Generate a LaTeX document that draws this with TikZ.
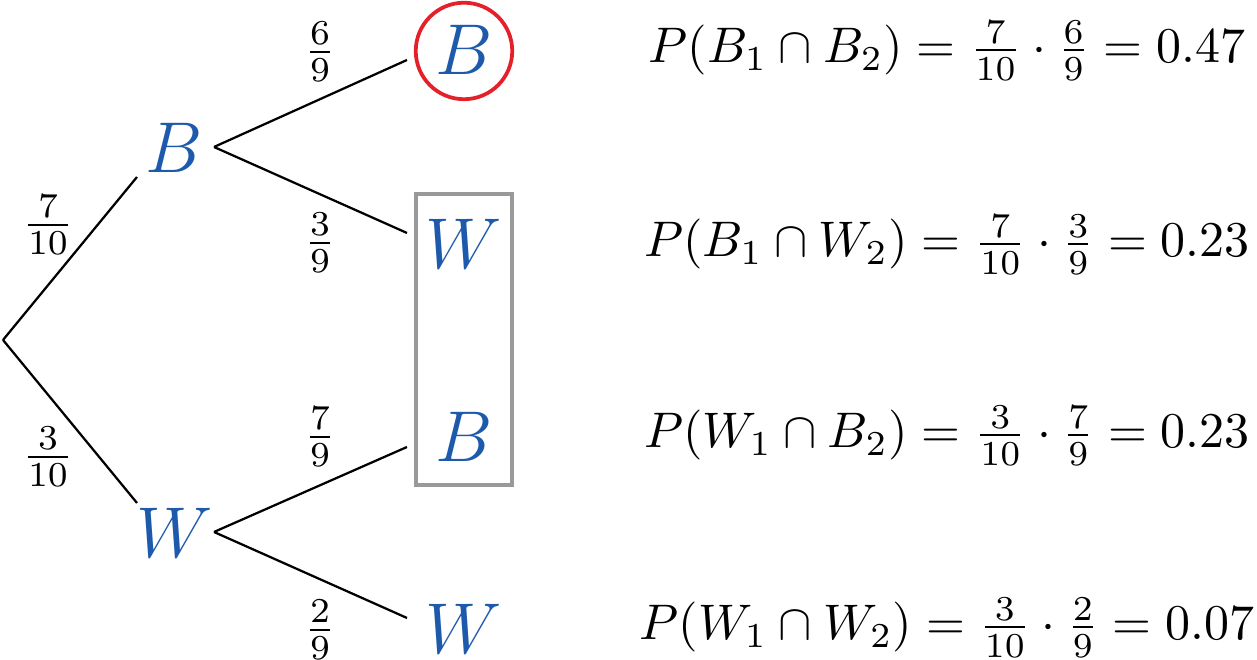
\documentclass[tikz,border=0pt]{standalone}
\usetikzlibrary{calc}
\definecolor{letblue}{RGB}{30,90,172}
\definecolor{circred}{RGB}{228,32,42}
\definecolor{boxgray}{RGB}{153,153,153}
\begin{document}
\begin{tikzpicture}[x=0.2pt,y=-0.2pt,
  big/.style={text=letblue,font=\fontsize{15}{18}\selectfont,inner sep=2.3pt},
  prob/.style={font=\normalsize,inner sep=0pt},
  branch/.style={line width=0.45pt,black},
  formula/.style={anchor=base,inner sep=0pt}]
\useasboundingbox (0,0) rectangle (1257,660);
% nodes
\coordinate (root) at (3,340);
\node[big] (b1) at (174,148) {$B$};
\node[big] (w1) at (175,533) {$W$};
\node[big] (bb) at (464,50) {$B$};
\node[big] (bw) at (464,244) {$W$};
\node[big] (wb) at (464,437) {$B$};
\node[big] (ww) at (464,629) {$W$};
% circle and box
\node[draw=circred,line width=0.75pt,circle,minimum size=19.3pt,inner sep=0pt] (ring) at (464,51) {};
\node[draw=boxgray,line width=0.8pt,rectangle,minimum width=19.2pt,minimum height=58.2pt,inner sep=0pt] (frame) at (464,339.5) {};
% branches
\draw[branch] (root) -- ([shift={(-37,29)}]b1.center);
\draw[branch] (root) -- ([shift={(-38,-30)}]w1.center);
\draw[branch] ([shift={(40,-1)}]b1.center) -- ([shift={(-57,10)}]bb.center);
\draw[branch] ([shift={(40,-1)}]b1.center) -- ([shift={(-57,-11)}]bw.center);
\draw[branch] ([shift={(39,-1)}]w1.center) -- ([shift={(-57,10)}]wb.center);
\draw[branch] ([shift={(39,-1)}]w1.center) -- ([shift={(-57,-11)}]ww.center);
% probabilities
\node[prob] (p1) at (48,225) {$\frac{7}{10}$};
\node[prob] (p2) at (48,457) {$\frac{3}{10}$};
\node[prob] (p3) at (320,52) {$\frac{6}{9}$};
\node[prob] (p4) at (320,243) {$\frac{3}{9}$};
\node[prob] (p5) at (320,437) {$\frac{7}{9}$};
\node[prob] (p6) at (320,630) {$\frac{2}{9}$};
% formulas
\node[formula] (f1) at (947,63) {$P(B_1\cap B_2)=\frac{7}{10}\cdot\frac{6}{9}=0.47$};
\node[formula] (f2) at (947,257) {$P(B_1\cap W_2)=\frac{7}{10}\cdot\frac{3}{9}=0.23$};
\node[formula] (f3) at (947,448) {$P(W_1\cap B_2)=\frac{3}{10}\cdot\frac{7}{9}=0.23$};
\node[formula] (f4) at (947,640) {$P(W_1\cap W_2)=\frac{3}{10}\cdot\frac{2}{9}=0.07$};
\end{tikzpicture}
\end{document}
